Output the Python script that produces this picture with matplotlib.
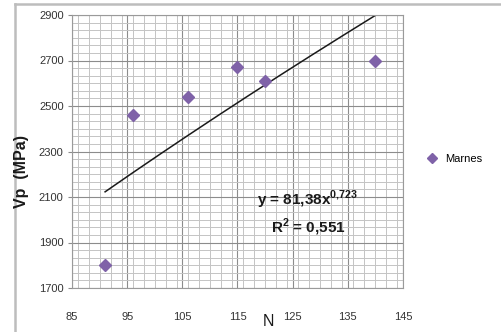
import matplotlib
matplotlib.use("Agg")
import matplotlib.pyplot as plt
import numpy as np
from matplotlib.ticker import MultipleLocator
from matplotlib.lines import Line2D

# Data
N_values = [91, 96, 106, 115, 120, 140]
Vp_values = [1800, 2460, 2540, 2670, 2610, 2700]
coef_a = 81.38
coef_b = 0.723
x_ticks = [85, 95, 105, 115, 125, 135, 145]
y_ticks = [1700, 1900, 2100, 2300, 2500, 2700, 2900]
series_name = "Marnes"

plt.rcParams['font.family'] = ['Liberation Sans', 'DejaVu Sans']
plt.rcParams['mathtext.fontset'] = 'custom'
plt.rcParams['mathtext.rm'] = 'Liberation Sans'
plt.rcParams['mathtext.bf'] = 'Liberation Sans:bold'

fig = plt.figure(figsize=(5.01, 3.32), dpi=100)
ax = fig.add_axes([72/501, 1-288/332, (403-72)/501, (288-15)/332])

ax.set_xlim(85, 145)
ax.set_ylim(1700, 2900)
ax.set_xticks(x_ticks)
ax.set_yticks(y_ticks)
ax.xaxis.set_minor_locator(MultipleLocator(2))
ax.yaxis.set_minor_locator(MultipleLocator(200/6))
ax.grid(which='major', color='#8c8c8c', lw=0.8)
ax.grid(which='minor', color='#c4c4c4', lw=0.7)
ax.set_axisbelow(True)
for s in ax.spines.values():
    s.set_color('#9a9a9a')
    s.set_linewidth(0.8)
ax.tick_params(axis='both', which='minor', length=0)
ax.tick_params(axis='y', which='major', length=3, color='#8c8c8c', labelsize=8, pad=3, labelcolor='#333333')
ax.tick_params(axis='x', which='major', length=0, labelsize=8, pad=17, labelcolor='#333333')

# Trend line
xt = np.linspace(min(N_values), max(N_values), 200)
yt = coef_a * xt ** coef_b
ax.plot(xt, yt, color='#1a1a1a', lw=1.1)

# Points
ax.plot(N_values, Vp_values, linestyle='none', marker='D', markersize=6.5,
        color='#7f62a8', label=series_name)

fig.text(307/501, 1-200/332, r'y = 81,38x$^{\mathbf{0{,}723}}$', ha='center', va='center',
         fontsize=11, fontweight='bold', color='#1a1a1a')
fig.text(308/501, 1-227/332, r'R$^{\mathbf{2}}$ = 0,551', ha='center', va='center',
         fontsize=11, fontweight='bold', color='#1a1a1a')

# Axis labels
fig.text(22/501, 1-171/332, 'Vp  (MPa)', rotation=90, ha='center', va='center',
         fontsize=11.5, fontweight='bold', color='#1a1a1a')
fig.text(268/501, 1-321/332, 'N', ha='center', va='center', fontsize=11.5,
         color='#1a1a1a')

# Legend
fig.legend(handles=[Line2D([], [], linestyle='none', marker='D', markersize=5,
                           color='#7f62a8')], labels=[series_name],
           loc='center left', bbox_to_anchor=(415/501, 1-159/332), frameon=False,
           fontsize=8, handletextpad=0.6, handlelength=1.2)

# Outer frame
fig.add_artist(Line2D([15/501, 15/501], [0, 1-4/332], transform=fig.transFigure,
                      color='#bdbdbd', lw=1.8))
fig.add_artist(Line2D([15/501, 1], [1-4/332, 1-4/332], transform=fig.transFigure,
                      color='#bdbdbd', lw=1.8))

fig.savefig('out.png', dpi=100)
